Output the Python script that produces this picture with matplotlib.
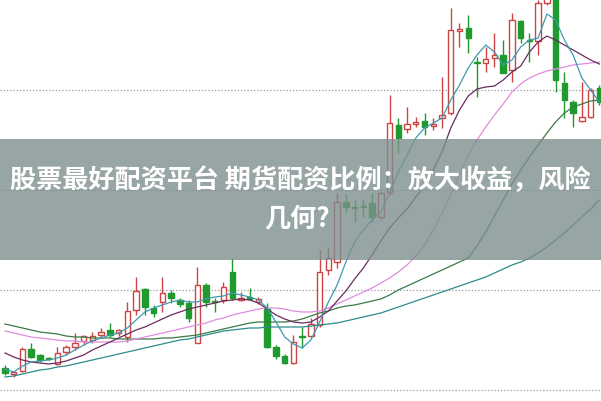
import numpy as np
import matplotlib
matplotlib.use("Agg")
import matplotlib.pyplot as plt

# daily candles
opens = [10.22, 10.16, 10.19, 10.41, 10.35, 10.32, 10.26, 10.38, 10.43, 10.49,
         10.50, 10.55, 10.60, 10.57, 10.53, 10.80, 11.01, 10.82, 10.88, 10.97,
         10.90, 10.87, 10.47, 11.05, 10.89, 10.90, 11.18, 10.90, 10.93, 10.88,
         10.81, 10.43, 10.34, 10.27, 10.54, 10.54, 10.65, 11.20, 11.28, 11.88,
         11.83, 11.84, 11.87, 11.73, 11.98, 12.65, 12.61, 12.66, 12.69, 12.64,
         12.72, 12.77, 13.59, 13.62, 13.28, 13.27, 13.32, 13.35, 13.20, 13.69,
         13.50, 13.49, 13.87, 13.93, 13.07, 12.88, 12.69, 12.73, 13.02]
highs = [10.25, 10.19, 10.43, 10.47, 10.36, 10.33, 10.43, 10.45, 10.57, 10.55,
         10.58, 10.62, 10.67, 10.61, 10.88, 11.13, 11.02, 10.85, 11.13, 11.00,
         10.92, 10.90, 11.23, 11.07, 10.92, 11.08, 11.32, 10.98, 11.02, 10.93,
         10.87, 10.45, 10.36, 10.55, 10.63, 10.72, 11.40, 11.43, 11.97, 11.96,
         11.90, 11.91, 11.97, 11.98, 12.95, 12.72, 12.83, 12.73, 12.77, 12.72,
         13.13, 13.82, 13.67, 13.75, 13.33, 13.43, 13.57, 13.50, 13.77, 13.70,
         13.57, 13.90, 14.02, 13.98, 13.18, 12.90, 13.08, 13.02, 13.05]
lows = [10.15, 10.13, 10.18, 10.32, 10.28, 10.30, 10.25, 10.35, 10.40, 10.45,
        10.47, 10.52, 10.53, 10.54, 10.48, 10.75, 10.75, 10.73, 10.78, 10.87,
        10.83, 10.68, 10.47, 10.83, 10.78, 10.87, 10.90, 10.89, 10.90, 10.86,
        10.42, 10.31, 10.26, 10.26, 10.42, 10.53, 10.63, 11.15, 11.22, 11.78,
        11.68, 11.73, 11.68, 11.70, 11.95, 12.37, 12.57, 12.63, 12.55, 12.60,
        12.62, 12.75, 13.43, 13.37, 12.93, 13.18, 13.23, 13.17, 13.08, 13.47,
        13.28, 13.35, 13.85, 12.98, 12.72, 12.63, 12.68, 12.72, 12.85]
closes = [10.17, 10.18, 10.41, 10.33, 10.30, 10.31, 10.37, 10.43, 10.47, 10.54,
          10.54, 10.58, 10.55, 10.60, 10.79, 10.99, 10.83, 10.77, 10.97, 10.92,
          10.86, 10.72, 11.05, 10.88, 10.88, 11.03, 10.92, 10.92, 10.91, 10.91,
          10.43, 10.34, 10.27, 10.48, 10.53, 10.66, 11.18, 11.32, 11.88, 11.83,
          11.82, 11.83, 11.73, 11.97, 12.67, 12.52, 12.66, 12.68, 12.63, 12.66,
          12.75, 13.60, 13.61, 13.52, 13.27, 13.31, 13.35, 13.17, 13.70, 13.52,
          13.49, 13.87, 13.96, 13.10, 12.90, 12.77, 12.73, 13.00, 12.88]

# moving average lines, also
ma5 = [10.21, 10.18, 10.24, 10.28, 10.29, 10.30, 10.32, 10.35, 10.40, 10.45,
       10.49, 10.52, 10.55, 10.57, 10.62, 10.70, 10.78, 10.82, 10.85, 10.88,
       10.90, 10.88, 10.88, 10.91, 10.93, 10.94, 10.97, 10.95, 10.93, 10.90,
       10.82, 10.68, 10.53, 10.46, 10.42, 10.50, 10.68, 10.88, 11.05, 11.28,
       11.48, 11.60, 11.70, 11.78, 11.97, 12.18, 12.35, 12.52, 12.62, 12.67,
       12.72, 12.90, 13.05, 13.22, 13.35, 13.45, 13.38, 13.25, 13.30, 13.43,
       13.50, 13.52, 13.76, 13.70, 13.50, 13.35, 13.12, 13.00, 12.88]
ma10 = [10.37, 10.33, 10.30, 10.28, 10.27, 10.26, 10.27, 10.29, 10.32, 10.35,
        10.40, 10.44, 10.48, 10.52, 10.56, 10.60, 10.63, 10.67, 10.71, 10.75,
        10.78, 10.81, 10.83, 10.85, 10.87, 10.89, 10.90, 10.91, 10.90, 10.87,
        10.81, 10.75, 10.71, 10.68, 10.67, 10.68, 10.73, 10.79, 10.89, 10.99,
        11.11, 11.22, 11.35, 11.49, 11.62, 11.72, 11.81, 11.93, 12.04, 12.20,
        12.38, 12.62, 12.80, 12.94, 13.01, 13.03, 13.04, 13.10, 13.18, 13.24,
        13.38, 13.48, 13.54, 13.50, 13.45, 13.40, 13.35, 13.30, 13.26]
ma20 = [10.59, 10.57, 10.55, 10.53, 10.52, 10.51, 10.50, 10.49, 10.49, 10.48,
        10.48, 10.48, 10.48, 10.48, 10.49, 10.51, 10.53, 10.55, 10.57, 10.59,
        10.61, 10.63, 10.65, 10.67, 10.70, 10.72, 10.75, 10.77, 10.79, 10.81,
        10.82, 10.82, 10.81, 10.79, 10.78, 10.78, 10.79, 10.82, 10.86, 10.90,
        10.94, 10.98, 11.02, 11.07, 11.12, 11.18, 11.25, 11.34, 11.45, 11.60,
        11.77, 11.95, 12.15, 12.35, 12.50, 12.63, 12.75, 12.86, 12.98, 13.06,
        13.12, 13.16, 13.19, 13.21, 13.23, 13.25, 13.26, 13.27, 13.28]
ma30 = [10.66, 10.64, 10.62, 10.60, 10.58, 10.57, 10.56, 10.54, 10.53, 10.53,
        10.52, 10.52, 10.52, 10.51, 10.51, 10.51, 10.51, 10.51, 10.52, 10.52,
        10.53, 10.54, 10.55, 10.57, 10.59, 10.61, 10.63, 10.65, 10.67, 10.68,
        10.68, 10.68, 10.68, 10.69, 10.71, 10.74, 10.77, 10.79, 10.82, 10.84,
        10.85, 10.87, 10.89, 10.91, 10.95, 11.00, 11.04, 11.08, 11.12, 11.16,
        11.20, 11.24, 11.28, 11.32, 11.44, 11.58, 11.74, 11.90, 12.06, 12.20,
        12.33, 12.45, 12.57, 12.68, 12.77, 12.83, 12.86, 12.89, 12.90]
ma60 = [10.13, 10.14, 10.16, 10.18, 10.20, 10.21, 10.23, 10.24, 10.26, 10.28,
        10.30, 10.32, 10.34, 10.36, 10.38, 10.40, 10.42, 10.44, 10.46, 10.48,
        10.50, 10.51, 10.53, 10.55, 10.57, 10.59, 10.60, 10.61, 10.62, 10.62,
        10.63, 10.63, 10.63, 10.63, 10.63, 10.64, 10.65, 10.66, 10.67, 10.69,
        10.71, 10.73, 10.75, 10.77, 10.80, 10.83, 10.86, 10.89, 10.92, 10.95,
        10.98, 11.01, 11.04, 11.07, 11.10, 11.13, 11.17, 11.21, 11.25, 11.28,
        11.32, 11.37, 11.43, 11.50, 11.57, 11.65, 11.73, 11.81, 11.90]

grid_levels = [10, 11, 12, 13]
title_line1 = "股票最好配资平台 期货配资比例：放大收益，风险"
title_line2 = "几何?"

UP = "#cf4343"
DOWN = "#1f9a2e"
CJK = ["Noto Sans CJK SC", "DejaVu Sans"]


def draw_candles(ax):
    x = np.arange(len(opens))
    for i in x:
        o, h, l, c = opens[i], highs[i], lows[i], closes[i]
        up = c >= o
        col = UP if up else DOWN
        ax.vlines(i, l, h, color=col, lw=1.0, zorder=2)
        bottom = min(o, c)
        height = max(abs(c - o), 0.012)
        ax.bar(i, height, bottom=bottom, width=0.62,
               facecolor="white" if up else DOWN, edgecolor=col,
               linewidth=1.0, zorder=3)


fig = plt.figure(figsize=(6.01, 4.01), dpi=100)
ax = fig.add_axes([0, 0, 1, 1])
ax.set_xlim(-0.57, 68.19)
ax.set_ylim(9.89, 13.9)
ax.axis("off")

for lv in grid_levels:
    ax.axhline(lv, color="#9a9a9a", lw=0.9, ls=(0, (1, 1.6)), zorder=1)

draw_candles(ax)

xs = np.arange(len(ma5))
ax.plot(xs, ma60, color="#2e8b8b", lw=0.9, zorder=4)
ax.plot(xs, ma30, color="#3a7a45", lw=0.9, zorder=4)
ax.plot(xs, ma20, color="#e08ce0", lw=0.9, zorder=4)
ax.plot(xs, ma10, color="#6a2c5e", lw=0.9, zorder=4)
ax.plot(xs, ma5, color="#3e9bb3", lw=0.9, zorder=4)

# grey banner with the headline
ax.axhspan(11.30, 12.51, facecolor="#7d8f8d", alpha=0.8, lw=0, zorder=5)
fig.text(0.5, 0.549, title_line1, ha="center", va="center", color="white",
         fontsize=18.8, fontweight="bold", family=CJK, zorder=6)
fig.text(0.494, 0.454, title_line2, ha="center", va="center", color="white",
         fontsize=18.8, fontweight="bold", family=CJK, zorder=6)

fig.savefig("out.png", dpi=100)
